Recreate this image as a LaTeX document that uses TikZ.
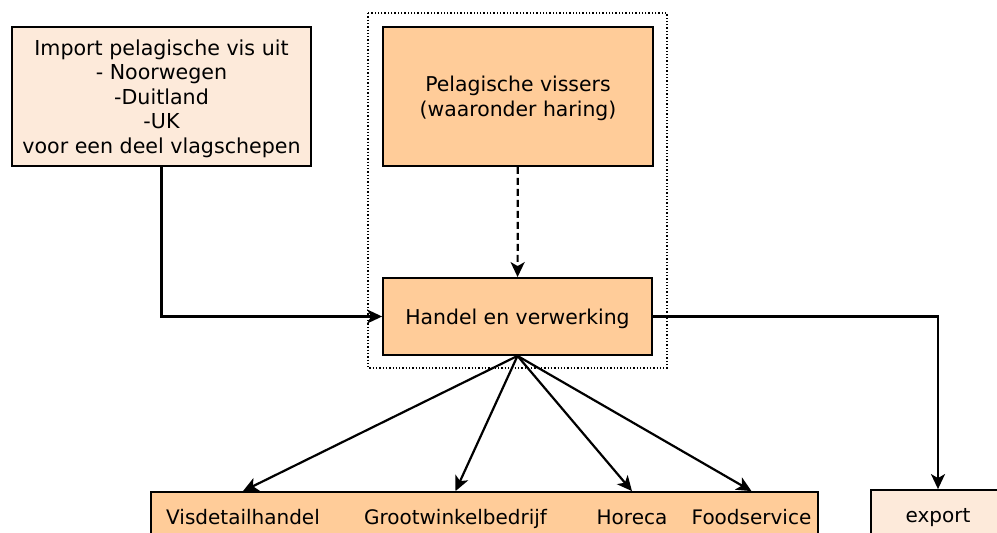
\documentclass[tikz,border=0pt]{standalone}
\usepackage{fontspec}
\setmainfont{DejaVu Sans}
\usetikzlibrary{calc,arrows.meta}
\definecolor{peach}{HTML}{FFCC99}
\definecolor{lightpeach}{HTML}{FDEADA}

\begin{document}
\begin{tikzpicture}[x=1pt,y=-1pt,box/.style={draw,line width=1.8pt,fill=peach,font=\fontsize{20.4}{25}\selectfont,align=center,inner sep=0pt,text depth=0pt},source/.style={box,fill=lightpeach},outlet/.style={font=\fontsize{20}{24}\selectfont,inner sep=0pt,anchor=base},arrow/.style={-{Stealth[length=15pt,width=14pt,inset=4pt]},line width=2.2pt}]
  \useasboundingbox (0,0) rectangle (997,533);
  \clip (0,0) rectangle (997,533);
  \fill[white] (0,0) rectangle (997,533);
  \node[box,minimum width=270pt,minimum height=139pt] (vissers) at (518,96.5) {Pelagische vissers\\(waaronder haring)};
  \node[box,minimum width=269pt,minimum height=77pt] (handel) at (517.5,316.5) {Handel en verwerking};
  \node[source,minimum width=299pt,minimum height=139pt,font=\fontsize{20.6}{24.6}\selectfont] (import) at (161.5,96.5) {Import pelagische vis uit\\- Noorwegen\\-Duitland\\-UK\\voor een deel vlagschepen};
  \node[source,minimum width=134pt,minimum height=56pt,font=\fontsize{20}{24}\selectfont] (export) at (938,518) {\raisebox{4.5pt}{export}};
  \node[box,minimum width=667pt,minimum height=56pt] (outlets) at (484.5,520) {};
  \node[outlet] (visdetail) at (243,524) {Visdetailhandel};
  \node[outlet] (grootwinkel) at (455.5,524) {Grootwinkelbedrijf};
  \node[outlet] (horeca) at (632,524) {Horeca};
  \node[outlet] (foodservice) at (751.5,524) {Foodservice};
  \draw[dotted,line width=1.3pt] (368,13) rectangle (667,368);
  \draw[arrow,dash pattern=on 7pt off 4pt] (vissers) -- (handel);
  \draw[arrow] (import.south) |- (handel.west);
  \draw[arrow] (handel.east) -| (export.north);
  \foreach \outlet in {visdetail,grootwinkel,horeca,foodservice}
    \draw[arrow] (handel.south) -- (\outlet |- outlets.north);
\end{tikzpicture}
\end{document}
